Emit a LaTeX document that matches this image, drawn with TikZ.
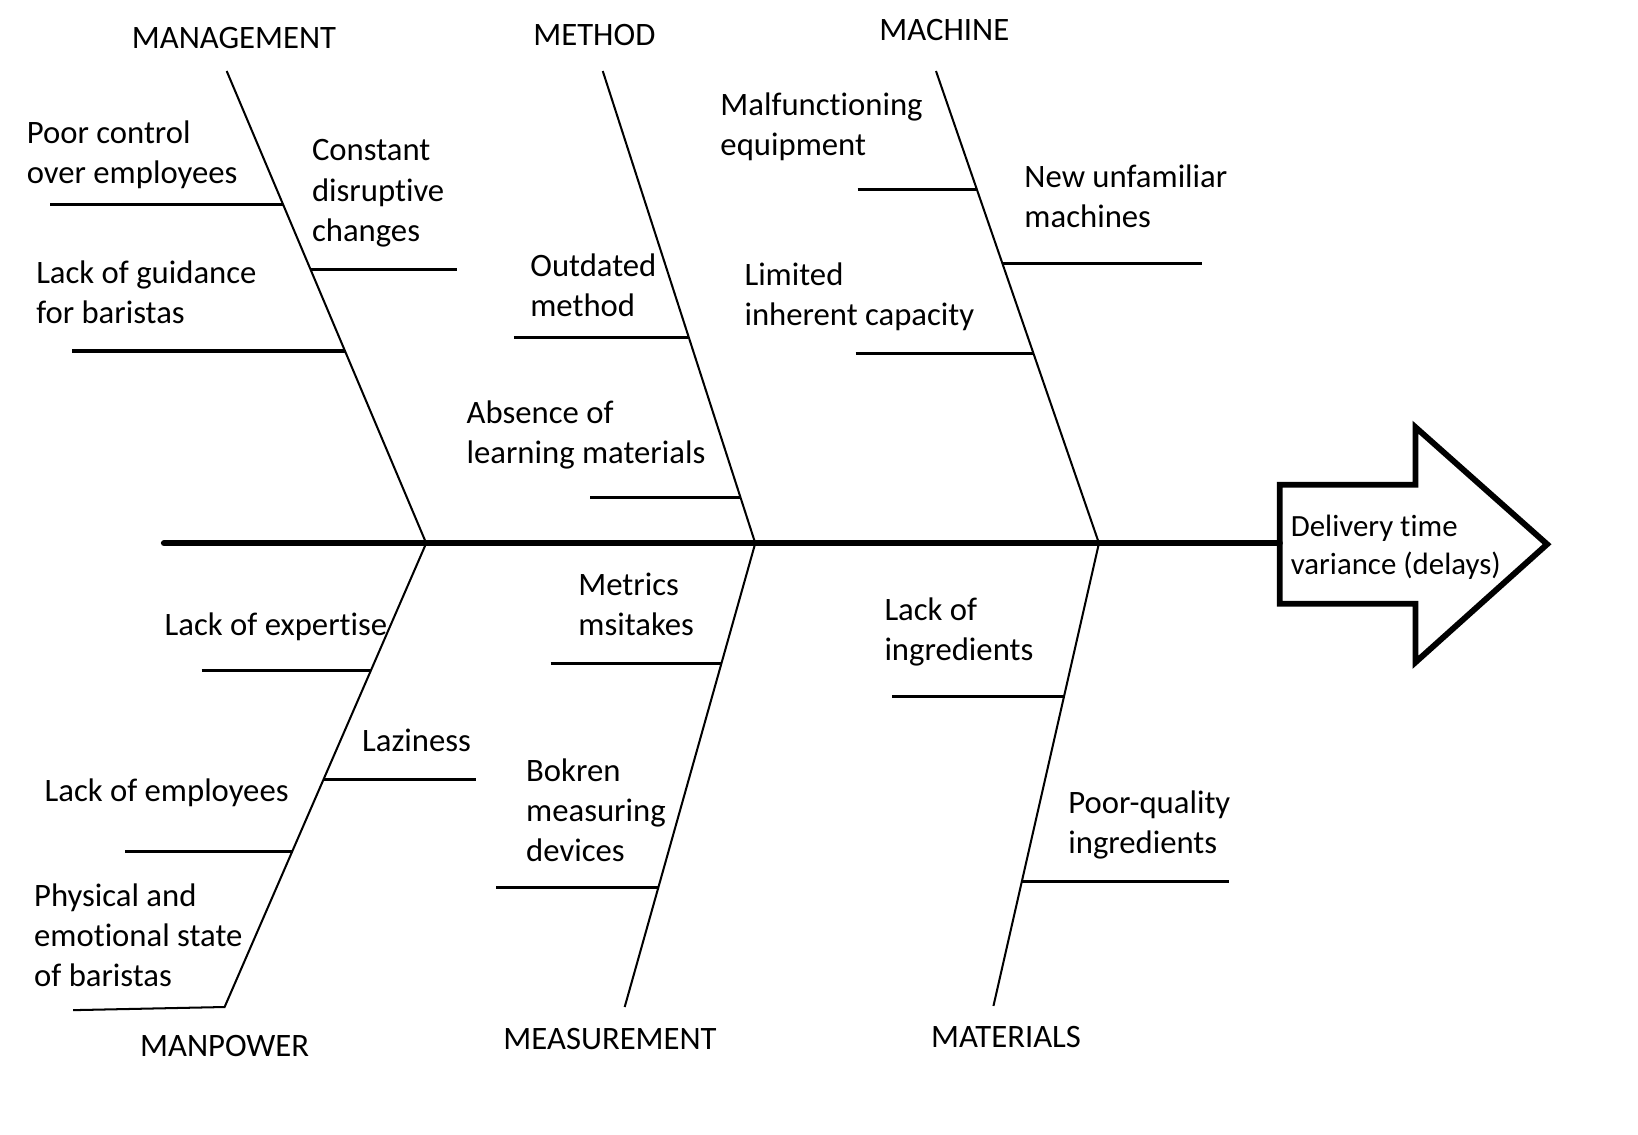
\documentclass[tikz,border=0pt]{standalone}
\usepackage{fontspec}
\setmainfont[Ligatures=NoCommon]{Carlito}
\usepackage{tikz}

\begin{document}
\begin{tikzpicture}[x=0.01cm,y=-0.01cm,
  bone/.style={line width=0.55pt},
  twig/.style={line width=0.85pt},
  spine/.style={line width=1.7pt,line cap=round},
  lbl/.style={anchor=west,align=left,inner sep=0pt,yshift=-0.85pt,font=\fontsize{8.9}{10.9}\selectfont},
  cat/.style={inner sep=0pt,font=\fontsize{8.9}{10.9}\selectfont}]
\useasboundingbox (0,0) rectangle (1568,1086);
% spine and head
\coordinate (tail) at (157,520);
\coordinate (head) at (1225,520);
\draw[spine] (tail) -- (head);
\draw[line width=1.6pt] (1225,464) -- (1355,464) -- (1355,409) -- (1481,521)
  -- (1355,634) -- (1355,578) -- (1225,578) -- cycle;
\node[lbl,font=\fontsize{8.4}{10.5}\selectfont] (effect) at (1235,521) {Delivery time\\variance (delays)};
% joints on the spine
\coordinate (j1) at (408,520);
\coordinate (j2) at (723,520);
\coordinate (j3) at (1052,520);
% upper bones
\draw[bone] (217,68) -- (j1);
\draw[bone] (577,68) -- (j2);
\draw[bone] (896,68) -- (j3);
\node[cat] (mgmt) at (224,36) {MANAGEMENT};
\node[cat] (meth) at (569,34) {METHOD};
\node[cat] (mach) at (904,29) {MACHINE};
% lower bones
\draw[bone] (j1) -- (215,964) -- (70,967);
\draw[bone] (j2) -- (598,964);
\draw[bone] (j3) -- (951,963);
\node[cat] (manp) at (215,1001) {MANPOWER};
\node[cat] (meas) at (584,995) {MEASUREMENT};
\node[cat] (matl) at (963,993) {MATERIALS};
% management
\draw[twig] (48,196) -- (271,196);
\draw[twig] (297,258) -- (437,258);
\draw[twig] (69,336) -- (330,336);
\node[lbl] (c1) at (25,145) {Poor control\\over employees};
\node[lbl] (c2) at (298,182) {Constant\\disruptive\\changes};
\node[lbl] (c3) at (34,277) {Lack of guidance\\for baristas};
% method
\draw[twig] (492,323) -- (659,323);
\draw[twig] (565,476) -- (709,476);
\node[lbl] (c4) at (507,270) {Outdated\\method};
\node[lbl] (c5) at (446,413) {Absence of\\learning materials};
% machine
\draw[twig] (821,181) -- (935,181);
\draw[twig] (960,252) -- (1151,252);
\draw[twig] (819,338) -- (989,338);
\node[lbl] (c6) at (689,118) {Malfunctioning\\equipment};
\node[lbl] (c7) at (980,185) {New unfamiliar\\machines};
\node[lbl] (c8) at (712,281) {Limited\\inherent capacity};
% manpower
\draw[twig] (193,642) -- (355,642);
\draw[twig] (310,746) -- (456,746);
\draw[twig] (120,815) -- (280,815);
\node[lbl] (c9) at (157,597) {Lack of expertise};
\node[lbl] (c10) at (346,706) {Laziness};
\node[lbl] (c11) at (42,756) {Lack of employees};
\node[lbl] (c12) at (32,892) {Physical and\\emotional state\\of baristas};
% measurement
\draw[twig] (527,635) -- (691,635);
\draw[twig] (475,850) -- (630,850);
\node[lbl] (c13) at (553,576) {Metrics\\msitakes};
\node[lbl] (c14) at (503,773) {Bokren\\measuring\\devices};
% materials
\draw[twig] (854,667) -- (1019,667);
\draw[twig] (978,844) -- (1176,844);
\node[lbl] (c15) at (846,602) {Lack of\\ingredients};
\node[lbl] (c16) at (1022,787) {Poor-quality\\ingredients};
\end{tikzpicture}
\end{document}
